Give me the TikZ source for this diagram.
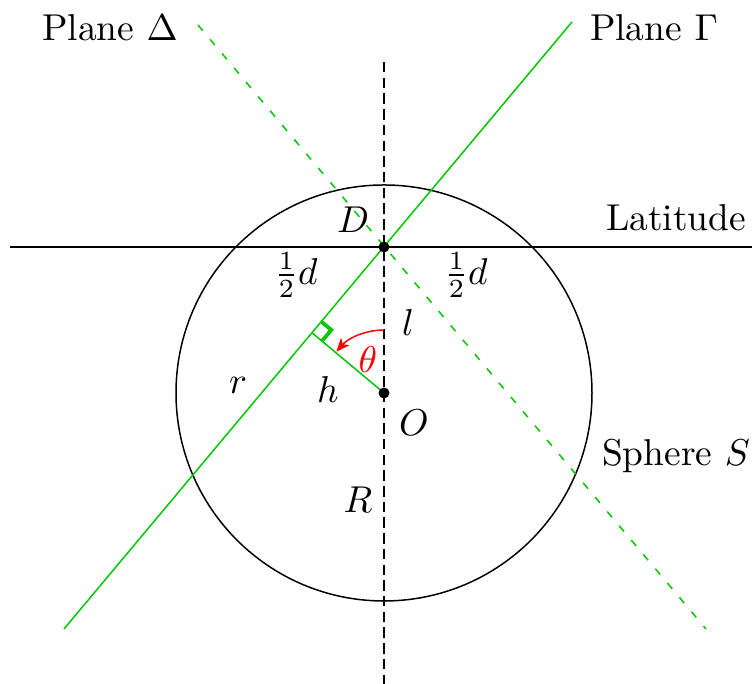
\documentclass[tikz,border=0pt]{standalone}
\usetikzlibrary{calc,arrows.meta}
\definecolor{pgreen}{RGB}{0,200,0}
\begin{document}
\begin{tikzpicture}[x=0.2674pt,y=0.2674pt,
  lbl/.style={inner sep=0pt},
]
\useasboundingbox (0,0) rectangle (752,684);
\coordinate (O) at (384,291);
\coordinate (D) at (384,437);
\coordinate (G1) at (64,55);
\coordinate (G2) at (572,662);
\coordinate (E1) at (198,659);
\coordinate (E2) at (706,55);
\coordinate (V1) at (384,622);
\coordinate (V2) at (384,0);
\coordinate (L1) at (10,437);
\coordinate (L2) at (752,437);
\coordinate (H) at ($(G1)!(O)!(G2)$);
% sphere
\draw (O) circle[radius=208];
% latitude
\draw (L1) -- (L2);
% vertical axis
\draw[dash pattern=on 2.8pt off 1.4pt] (V1) -- (V2);
% planes
\draw[pgreen] (G1) -- (G2);
\draw[pgreen,dash pattern=on 2pt off 3pt] (E1) -- (E2);
% h segment
\draw[pgreen] (O) -- (H);
% right angle mark
\draw[pgreen,line width=1pt] ($(H)!13/93.8!(O)$) -- ($(H)!13/93.8!(O) + (H)!13/100!(D) - (H)$) -- ($(H)!13/100!(D)$);
% theta arc
\draw[red,-{Stealth[length=3.6pt,width=3pt,inset=1pt]}] ($(O)+(90:63)$) arc[start angle=90,end angle=139,radius=63];
% dots
\fill (D) circle[radius=5.5];
\fill (O) circle[radius=5.5];
% labels
\node[lbl] (tD) at (110,656) {Plane $\Delta$};
\node[lbl] (tG) at (654,656) {Plane $\Gamma$};
\node[lbl] (tDd) at (353,464) {$D$};
\node[lbl] (hl) at (296,409) {$\frac12 d$};
\node[lbl] (hr) at (466,409) {$\frac12 d$};
\node[lbl] (tl) at (408,361) {$l$};
\node[lbl,red] (tth) at (368,324) {$\theta$};
\node[lbl] (th) at (328,294) {$h$};
\node[lbl] (tr) at (238,299) {$r$};
\node[lbl] (tO) at (414,261) {$O$};
\node[lbl] (tR) at (358,184) {$R$};
\node[lbl] (tLat) at (676,466) {Latitude};
\node[lbl] (tS) at (676,228) {Sphere $S$};
\end{tikzpicture}
\end{document}
